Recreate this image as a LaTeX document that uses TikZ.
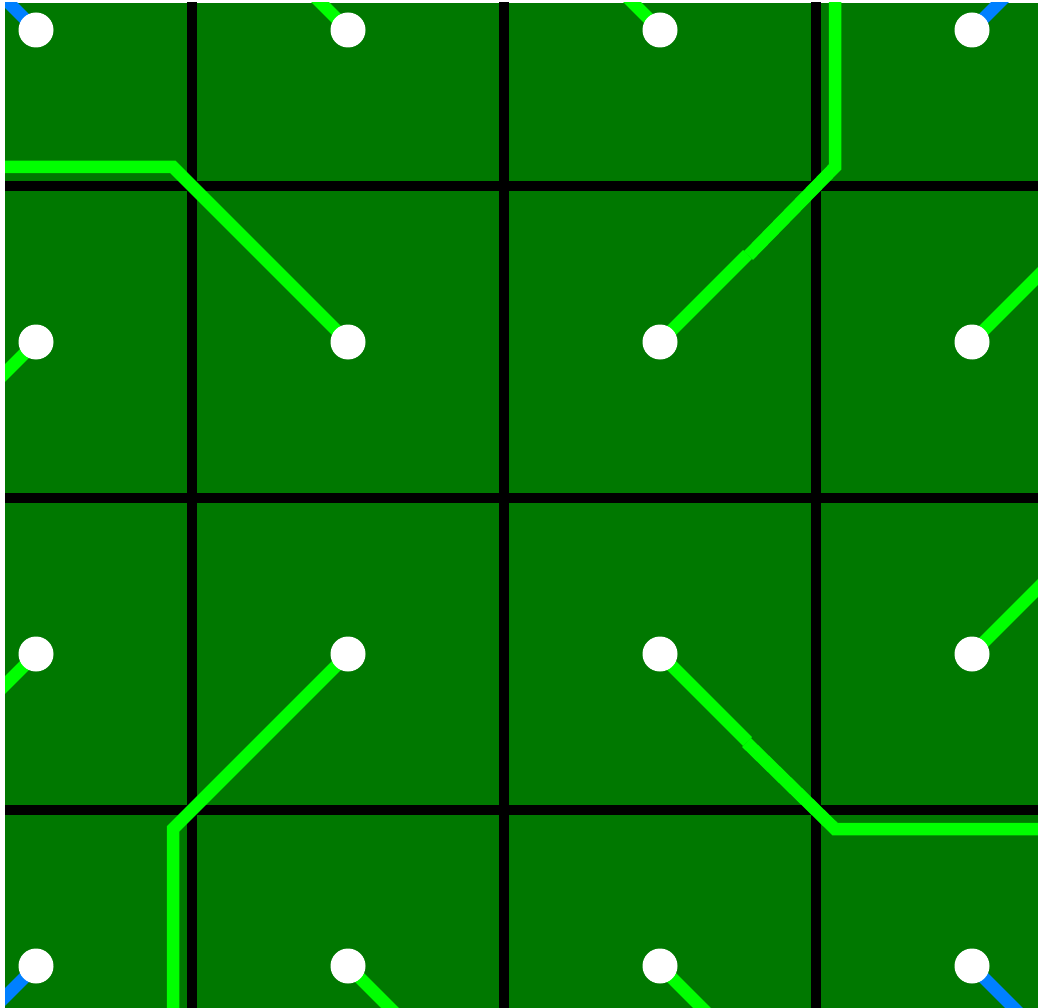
\documentclass[tikz,border=0pt]{standalone}
\usetikzlibrary{calc}
\definecolor{boardgreen}{RGB}{0,120,0}
\definecolor{tracegreen}{RGB}{0,255,0}
\definecolor{traceblue}{RGB}{0,128,255}
\pgfdeclarelayer{bg}
\pgfsetlayers{bg,main}

\begin{document}
\begin{tikzpicture}[x=1pt, y=-1pt,
  dot/.style={circle, fill=white, minimum size=35pt, inner sep=0pt},
  gridline/.style={black, line width=10pt},
  trace/.style={tracegreen, line width=12.5pt, line join=miter}
]
  \useasboundingbox (0,0) rectangle (1038,1008);

  % pads
  \foreach \i in {1,...,4}
    \foreach \j in {1,...,4}
      \node[dot] (d\i\j) at ({312*\i-276}, {312*\j-282}) {};

  % corners of the bent traces
  \coordinate (k22) at (173,167);
  \coordinate (e22) at (-20,167);
  \coordinate (k32) at (835,167);
  \coordinate (e32) at (835,-20);
  \coordinate (k23) at (173,829);
  \coordinate (e23) at (173,1030);
  \coordinate (k33) at (835,829);
  \coordinate (e33) at (1060,829);
  \coordinate (m32) at ($(d32)!0.5!(k32)$);
  \coordinate (m33) at ($(d33)!0.5!(k33)$);

  \begin{pgfonlayer}{bg}
    \fill[white] (0,0) rectangle (1038,1008);
    \clip (5,3) rectangle (1038,1008);
    \fill[boardgreen] (5,3) rectangle (1038,1008);
    \foreach \k in {192,504,816}
      \draw[gridline] (\k,0) -- (\k,1008);
    \foreach \k in {186,498,810}
      \draw[gridline] (0,\k) -- (1038,\k);

    % short traces leaving the board
    \foreach \n/\dx/\dy/\c in {11/-1/-1/traceblue, 21/-1/-1/tracegreen, 31/-1/-1/tracegreen,
        41/1/-1/traceblue, 12/-1/1/tracegreen, 42/1/-1/tracegreen, 13/-1/1/tracegreen,
        43/1/-1/tracegreen, 14/-1/1/traceblue, 24/1/1/tracegreen, 34/1/1/tracegreen,
        44/1/1/traceblue} {
      \coordinate (e\n) at ($(d\n)+(80*\dx,80*\dy)$);
      \draw[trace, draw=\c] (d\n.center) -- (e\n);
    }

    % bent traces
    \draw[trace] (d22.center) -- (k22) -- (e22);
    \draw[trace] (d32.center) -- (m32);
    \draw[trace] ($(m32)+(1,1)$) -- (k32) -- (e32);
    \draw[trace] (d23.center) -- (k23) -- (e23);
    \draw[trace] (d33.center) -- (m33);
    \draw[trace] ($(m33)+(-1,1)$) -- (k33) -- (e33);
  \end{pgfonlayer}
\end{tikzpicture}
\end{document}
